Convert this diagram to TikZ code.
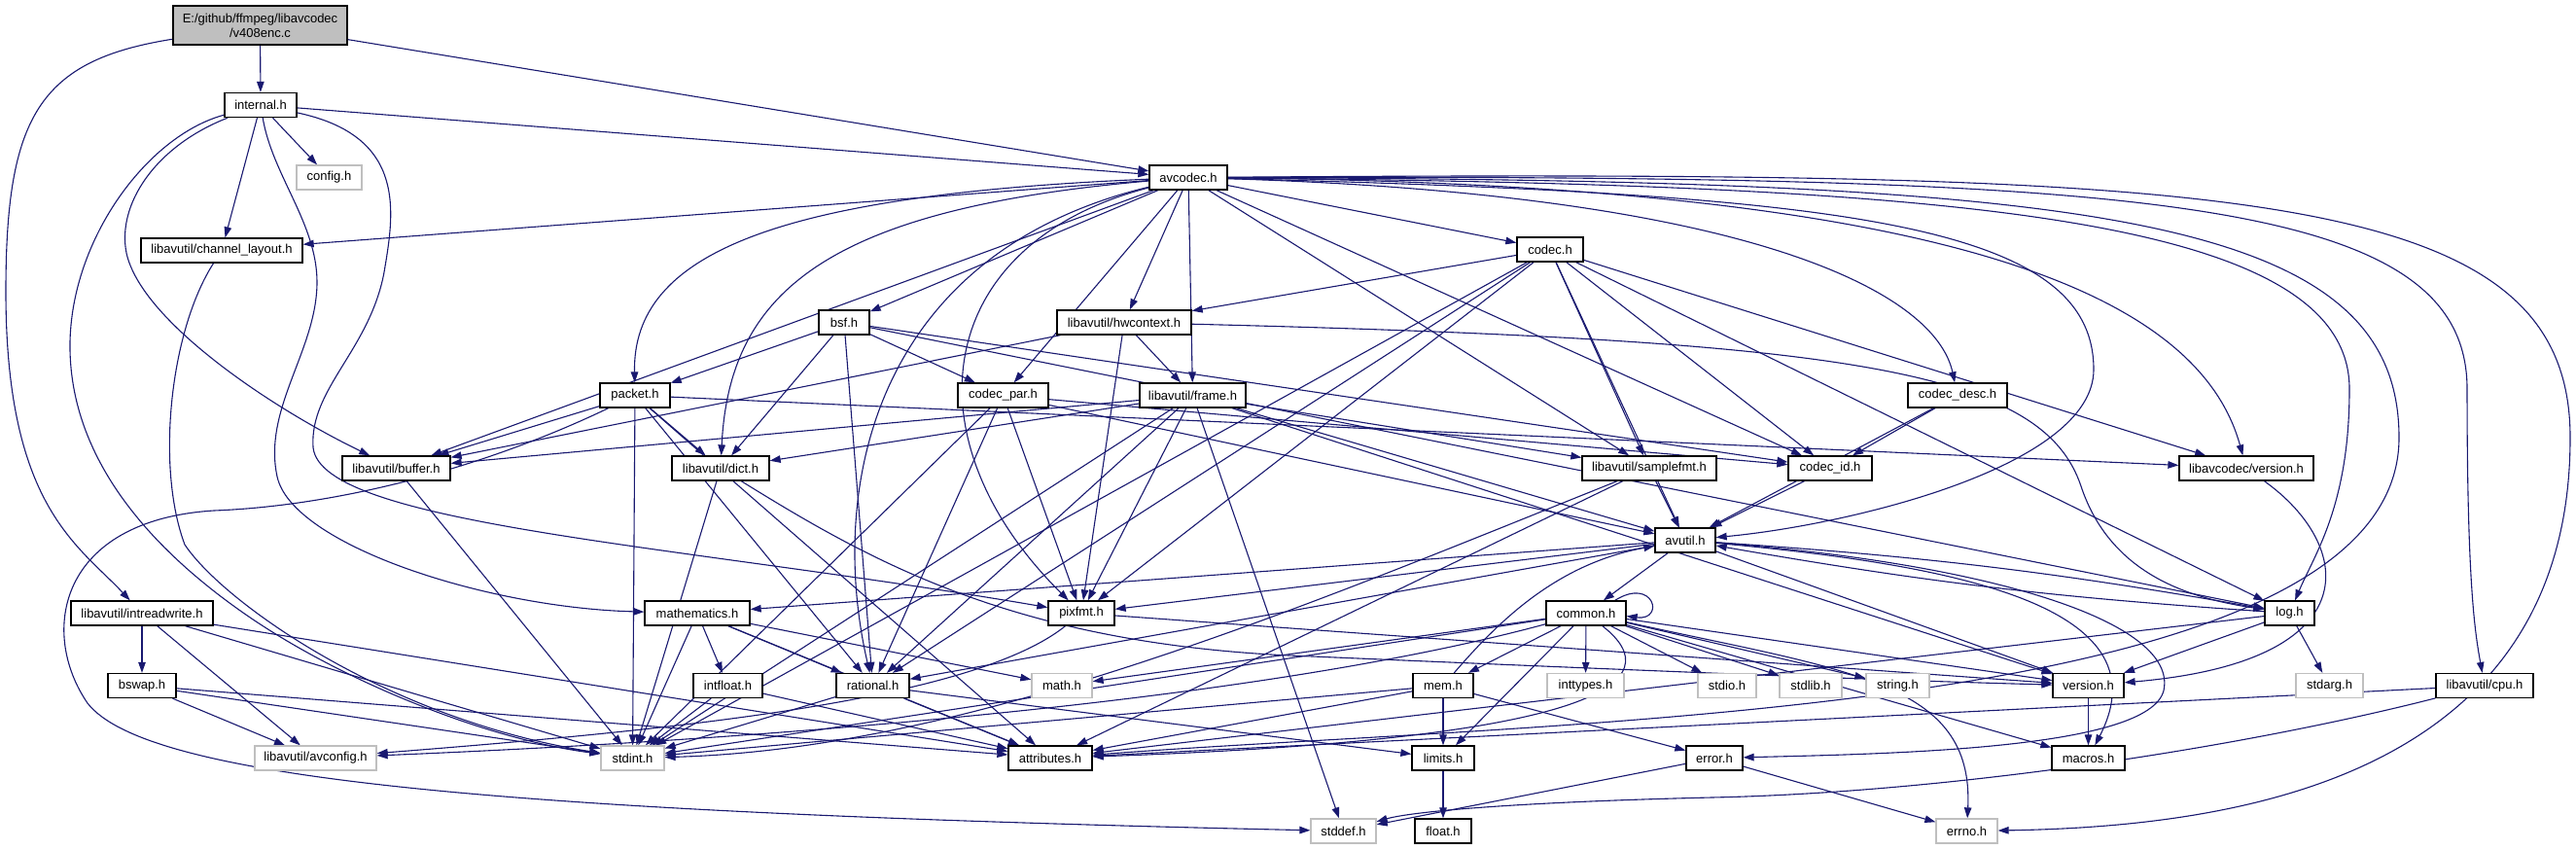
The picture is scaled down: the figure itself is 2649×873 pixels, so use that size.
\documentclass[tikz,border=0pt]{standalone}
\usepackage{fontspec}
\setmainfont{Liberation Sans}
\usetikzlibrary{arrows.meta}
\definecolor{edgec}{HTML}{191970}
\definecolor{grayb}{HTML}{BFBFBF}
\pgfdeclarelayer{back}
\pgfdeclarelayer{edges}
\pgfsetlayers{back,edges,main}
\newcommand\lblfont{\fontsize{13pt}{15pt}\selectfont}
\begin{document}
\begin{tikzpicture}[x=1pt,y=-1pt,
  nb/.style={draw=black,line width=1.3pt,fill=white,minimum height=25pt,inner sep=0pt,font=\lblfont},
  ng/.style={nb,draw=grayb},
  e/.style={draw=edgec,line width=1.1pt,-{Triangle[length=11pt,width=7.5pt]}}]
\begin{pgfonlayer}{back}
\fill[white] (0,0) rectangle (2649,873);
\end{pgfonlayer}
\useasboundingbox (0,0) rectangle (2649,873);
% nodes
\node[nb,fill=grayb,minimum width=179pt,minimum height=40pt,align=center] (root) at (267.5,26) {E:/github/ffmpeg/libavcodec\\/v408enc.c};
\node[nb,minimum width=74pt] (internal) at (268,108) {internal.h};
\node[ng,minimum width=67pt] (config) at (338.5,182.5) {config.h};
\node[nb,minimum width=80pt] (avcodec) at (1222,182.5) {avcodec.h};
\node[nb,minimum width=166pt] (chl) at (228,257.5) {libavutil/channel\_layout.h};
\node[nb,minimum width=68pt] (codec) at (1594,256.5) {codec.h};
\node[nb,minimum width=52pt] (bsf) at (868,331.5) {bsf.h};
\node[nb,minimum width=138pt] (hwc) at (1156,331.5) {libavutil/hwcontext.h};
\node[nb,minimum width=72pt] (packet) at (653,406.5) {packet.h};
\node[nb,minimum width=93pt] (cpar) at (1031.5,406.5) {codec\_par.h};
\node[nb,minimum width=109pt] (frame) at (1226.5,406.5) {libavutil/frame.h};
\node[nb,minimum width=102pt] (cdesc) at (2013,406.5) {codec\_desc.h};
\node[nb,minimum width=111pt] (buffer) at (407.5,481.5) {libavutil/buffer.h};
\node[nb,minimum width=100pt] (dict) at (741,481.5) {libavutil/dict.h};
\node[nb,minimum width=138pt] (sfmt) at (1696,481.5) {libavutil/samplefmt.h};
\node[nb,minimum width=86pt] (cid) at (1882,481.5) {codec\_id.h};
\node[nb,minimum width=138pt] (lavcver) at (2310,481.5) {libavcodec/version.h};
\node[nb,minimum width=62pt] (avutil) at (1733,555.5) {avutil.h};
\node[nb,minimum width=146pt] (irw) at (146,630.5) {libavutil/intreadwrite.h};
\node[nb,minimum width=108pt] (mathh) at (717,630.5) {mathematics.h};
\node[nb,minimum width=68pt] (pixfmt) at (1112,630.5) {pixfmt.h};
\node[nb,minimum width=82pt] (common) at (1631,630.5) {common.h};
\node[nb,minimum width=51pt] (log) at (2354.5,630.5) {log.h};
\node[nb,minimum width=70pt] (bswap) at (146,705) {bswap.h};
\node[nb,minimum width=71pt] (intfloat) at (748.5,705) {intfloat.h};
\node[nb,minimum width=75pt] (rational) at (897.5,705) {rational.h};
\node[ng,minimum width=62pt] (mathsys) at (1092,705) {math.h};
\node[nb,minimum width=62pt] (mem) at (1484,705) {mem.h};
\node[ng,minimum width=79pt] (inttypes) at (1630.5,705) {inttypes.h};
\node[ng,minimum width=60pt] (stdio) at (1776,705) {stdio.h};
\node[ng,minimum width=64pt] (stdlib) at (1862,705) {stdlib.h};
\node[ng,minimum width=65pt] (string) at (1951.5,705) {string.h};
\node[nb,minimum width=73pt] (version) at (2147.5,705) {version.h};
\node[ng,minimum width=69pt] (stdarg) at (2395.5,705) {stdarg.h};
\node[nb,minimum width=100pt] (cpu) at (2555,705) {libavutil/cpu.h};
\node[ng,minimum width=125pt] (avconfig) at (324.5,779.5) {libavutil/avconfig.h};
\node[ng,minimum width=65pt] (stdint) at (650.5,779.5) {stdint.h};
\node[nb,minimum width=86pt] (attributes) at (1080,779.5) {attributes.h};
\node[nb,minimum width=64pt] (limits) at (1484,779.5) {limits.h};
\node[nb,minimum width=58pt] (error) at (1763,779.5) {error.h};
\node[nb,minimum width=75pt] (macros) at (2147.5,779.5) {macros.h};
\node[ng,minimum width=67pt] (stddef) at (1381.5,854.5) {stddef.h};
\node[nb,minimum width=58pt] (float) at (1484,854.5) {float.h};
\node[ng,minimum width=63pt] (errno) at (2022.5,854.5) {errno.h};
\begin{pgfonlayer}{edges}
% root
\draw[e] (root) -- (internal);
\draw[e] (root) -- (avcodec);
\draw[e] (root) .. controls (40,62) and (6,120) .. (6,300) .. controls (6,520) and (80,560) .. (irw);
% internal
\draw[e] (internal) -- (config);
\draw[e] (internal) -- (chl);
\draw[e] (internal) -- (avcodec);
\draw[e] (internal) .. controls (160,150) and (120,210) .. (130,260) .. controls (145,330) and (280,420) .. (buffer);
\draw[e] (internal) .. controls (280,180) and (326,230) .. (326,290) .. controls (326,360) and (270,420) .. (285,490) .. controls (300,560) and (500,625) .. (mathh);
\draw[e] (internal) .. controls (420,140) and (405,220) .. (395,280) .. controls (380,360) and (318,400) .. (322,460) .. controls (330,540) and (700,560) .. (pixfmt);
\draw[e] (internal) .. controls (150,140) and (70,250) .. (72,360) .. controls (74,470) and (150,560) .. (250,630) .. controls (350,700) and (500,760) .. (stdint);
% channel layout
\draw[e] (chl) .. controls (175,340) and (160,480) .. (190,560) .. controls (230,620) and (400,740) .. (stdint);
% avcodec
\draw[e] (avcodec) .. controls (2300,175) and (2643,190) .. (2643,450) .. controls (2643,800) and (2300,850) .. (errno);
\draw[e] (avcodec) .. controls (2200,180) and (2537,200) .. (2537,400) .. controls (2537,600) and (2545,650) .. (cpu);
\draw[e] (avcodec) .. controls (2150,185) and (2467,220) .. (2467,450) .. controls (2467,740) and (1600,740) .. (attributes);
\draw[e] (avcodec) .. controls (2000,190) and (2416,220) .. (2416,400) .. controls (2416,520) and (2380,570) .. (log);
\draw[e] (avcodec) .. controls (1900,200) and (2153,230) .. (2153,380) .. controls (2153,480) and (1900,540) .. (avutil);
\draw[e] (avcodec) .. controls (1800,200) and (1990,300) .. (cdesc);
\draw[e] (avcodec) .. controls (2000,190) and (2260,300) .. (lavcver);
\draw[e] (avcodec) -- (sfmt);
\draw[e] (avcodec) -- (buffer);
\draw[e] (avcodec) -- (chl);
\draw[e] (avcodec) .. controls (850,215) and (750,300) .. (dict);
\draw[e] (avcodec) -- (frame);
\draw[e] (avcodec) -- (hwc);
\draw[e] (avcodec) .. controls (960,250) and (930,450) .. (pixfmt);
\draw[e] (avcodec) .. controls (900,260) and (850,500) .. (rational);
\draw[e] (avcodec) -- (codec);
\draw[e] (avcodec) -- (cpar);
\draw[e] (avcodec) -- (cid);
\draw[e] (avcodec) .. controls (800,200) and (650,260) .. (packet);
\draw[e] (avcodec) -- (bsf);
% codec
\draw[e] (codec) -- (stdint);
\draw[e] (codec) -- (avutil);
\draw[e] (codec) -- (hwc);
\draw[e] (codec) -- (log);
\draw[e] (codec) -- (pixfmt);
\draw[e] (codec) -- (rational);
\draw[e] (codec) -- (sfmt);
\draw[e] (codec) -- (cid);
\draw[e] (codec) -- (lavcver);
% bsf
\draw[e] (bsf) -- (dict);
\draw[e] (bsf) -- (log);
\draw[e] (bsf) -- (rational);
\draw[e] (bsf) -- (cid);
\draw[e] (bsf) -- (cpar);
\draw[e] (bsf) -- (packet);
% hwcontext
\draw[e] (hwc) -- (buffer);
\draw[e] (hwc) -- (frame);
\draw[e] (hwc) .. controls (1900,350) and (2100,380) .. (2140,500) .. controls (2170,590) and (2250,615) .. (log);
\draw[e] (hwc) -- (pixfmt);
% codec_par
\draw[e] (cpar) -- (stdint);
\draw[e] (cpar) -- (avutil);
\draw[e] (cpar) -- (rational);
\draw[e] (cpar) -- (pixfmt);
\draw[e] (cpar) -- (cid);
% frame
\draw[e] (frame) -- (stddef);
\draw[e] (frame) -- (stdint);
\draw[e] (frame) -- (avutil);
\draw[e] (frame) -- (buffer);
\draw[e] (frame) -- (dict);
\draw[e] (frame) -- (rational);
\draw[e] (frame) -- (sfmt);
\draw[e] (frame) -- (pixfmt);
\draw[e] (frame) -- (version);
% packet
\draw[e] (packet) .. controls (500,480) and (350,520) .. (220,525) .. controls (60,535) and (40,650) .. (90,723) .. controls (150,800) and (500,835) .. (stddef);
\draw[e] (packet) -- (stdint);
\draw[e] (packet) -- (attributes);
\draw[e] (packet) -- (buffer);
\draw[e] (packet) -- (dict);
\draw[e] (packet) -- (rational);
\draw[e] (packet) -- (lavcver);
% codec_desc etc
\draw[e] (cdesc) -- (avutil);
\draw[e] (cdesc) -- (cid);
\draw[e] (buffer) -- (stdint);
\draw[e] (dict) -- (stdint);
\draw[e] (dict) .. controls (900,580) and (1050,665) .. (1350,675) .. controls (1700,690) and (1950,700) .. (version);
\draw[e] (cid) -- (avutil);
\draw[e] (sfmt) .. controls (1350,620) and (1000,770) .. (stdint);
\draw[e] (sfmt) -- (avutil);
\draw[e] (sfmt) -- (attributes);
\draw[e] (lavcver) .. controls (2420,560) and (2440,680) .. (version);
% avutil
\draw[e] (avutil) -- (common);
\draw[e] (avutil) .. controls (2050,580) and (2240,640) .. (2225,710) .. controls (2210,770) and (1950,775) .. (error);
\draw[e] (avutil) -- (rational);
\draw[e] (avutil) -- (version);
\draw[e] (avutil) .. controls (2000,580) and (2230,620) .. (macros);
\draw[e] (avutil) -- (mathh);
\draw[e] (avutil) to[bend left=3] (log);
\draw[e] (avutil) -- (pixfmt);
% intreadwrite
\draw[e] (irw) -- (avconfig);
\draw[e] (irw) -- (attributes);
\draw[e] (irw) -- (bswap);
\draw[e] (irw) -- (stdint);
% mathematics
\draw[e] (mathh) -- (stdint);
\draw[e] (mathh) -- (mathsys);
\draw[e] (mathh) -- (attributes);
\draw[e] (mathh) -- (rational);
\draw[e] (mathh) -- (intfloat);
% pixfmt
\draw[e] (pixfmt) .. controls (1000,720) and (700,750) .. (avconfig);
\draw[e] (pixfmt) -- (version);
% common
\draw[e] (common) .. controls (1900,690) and (2030,700) .. (errno);
\draw[e] (common) -- (inttypes);
\draw[e] (common) -- (limits);
\draw[e] (common) -- (mathsys);
\draw[e] (common) -- (stdint);
\draw[e] (common) -- (stdio);
\draw[e] (common) -- (stdlib);
\draw[e] (common) -- (string);
\draw[e] (common) .. controls (1720,700) and (1650,760) .. (attributes);
\draw[e] (common) -- (macros);
\draw[e] (common) -- (version);
\draw[e] (common) .. controls (1300,720) and (800,760) .. (avconfig);
\draw[e] (common) -- (mem);
\draw[e] ([xshift=-12pt]common.north east) .. controls +(40,-25) and +(40,5) .. ([yshift=-3pt]common.east);
% log
\draw[e] (log) -- (stdarg);
\draw[e] (log) to[bend left=3] (avutil);
\draw[e] (log) -- (attributes);
\draw[e] (log) -- (version);
% small headers
\draw[e] (bswap) -- (avconfig);
\draw[e] (bswap) -- (attributes);
\draw[e] (bswap) -- (stdint);
\draw[e] (intfloat) -- (stdint);
\draw[e] (intfloat) -- (attributes);
\draw[e] (rational) -- (stdint);
\draw[e] (rational) -- (limits);
\draw[e] (rational) -- (attributes);
\draw[e] (mem) -- (limits);
\draw[e] (mem) -- (stdint);
\draw[e] (mem) -- (attributes);
\draw[e] (mem) -- (error);
\draw[e] (mem) .. controls (1540,640) and (1600,580) .. (avutil);
\draw[e] (version) -- (macros);
\draw[e] (cpu) -- (attributes);
\draw[e] (cpu) .. controls (2300,770) and (2000,815) .. (1760,820) .. controls (1550,825) and (1450,835) .. (stddef);
\draw[e] (error) -- (errno);
\draw[e] (error) -- (stddef);
\draw[e] (limits) -- (float);
\end{pgfonlayer}
\end{tikzpicture}
\end{document}
